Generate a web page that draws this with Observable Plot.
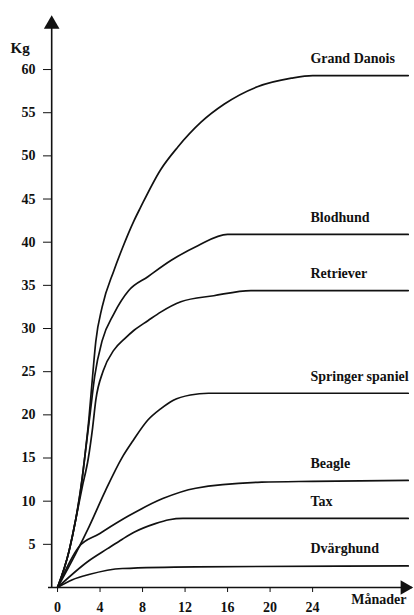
<!DOCTYPE html>
<html>
<head>
<meta charset="utf-8">
<script src="https://cdn.jsdelivr.net/npm/d3@7"></script>
<script src="https://cdn.jsdelivr.net/npm/@observablehq/plot@0.6"></script>
<style>
  html, body { margin: 0; padding: 0; background: #fff; }
  svg { display: block; }
  #chart svg, #chart svg text { font-family: "Liberation Serif", "Times New Roman", serif !important; font-weight: bold; }
</style>
</head>
<body>
<div id="chart"></div>
<script>
// Breeds (labels) and growth curves: [month, kg]
const breeds = ["Grand Danois", "Blodhund", "Retriever", "Springer spaniel", "Beagle", "Tax", "Dvärghund"];

const grandDanois = [[0,0],[1.1,4.3],[1.7,7.8],[2.2,11.5],[2.6,15.5],[2.95,19.5],[3.3,24.5],[3.6,28.5],[4.2,32.5],[5.3,36.7],[6.1,39.3],[7.2,42.5],[7.8,44.0],[9.7,48.4],[11.3,51.0],[13.5,53.9],[15.7,56.0],[18.8,58.0],[22,59.0],[24,59.3],[33,59.3]];
const blodhund = [[0,0],[1.1,4.3],[1.7,7.8],[2.3,12.5],[2.7,16.5],[3.1,20.5],[3.5,24.5],[4.2,28.6],[5.3,31.7],[6.7,34.4],[8.5,36.0],[10.7,37.9],[13.2,39.6],[16,40.9],[33,40.9]];
const retriever = [[0,0],[1.1,4.3],[1.7,7.8],[2.3,11.5],[2.9,15],[3.3,18.5],[3.6,21.7],[4.3,25.1],[5.3,27.5],[6.3,28.8],[7.2,29.8],[8.5,30.9],[9.7,31.9],[11.6,33.1],[14.7,33.8],[18.2,34.4],[33,34.4]];
const springer = [[0,0],[1.7,3.9],[2.95,7.0],[4.5,11.2],[6.1,15.1],[7.1,17.0],[8.5,19.4],[9.7,20.7],[10.9,21.7],[12.5,22.3],[14.2,22.5],[33,22.5]];
const beagle = [[0,0],[2.0,4.7],[3.9,6.2],[6.7,8.3],[9.9,10.3],[13,11.5],[19.2,12.2],[24,12.3],[33,12.4]];
const tax = [[0,0],[2.95,3.1],[4.7,4.5],[6.1,5.6],[7.2,6.4],[9.2,7.4],[10.5,7.85],[11.8,8.0],[33,8.0]];
const dvarghund = [[0,0],[1.4,0.9],[2.95,1.5],[6.1,2.2],[13,2.4],[33,2.5]];

const xTicks = [0, 4, 8, 12, 16, 20, 24];
const yTicks = [5, 10, 15, 20, 25, 30, 35, 40, 45, 50, 55, 60];

const seriesList = [grandDanois, blodhund, retriever, springer, beagle, tax, dvarghund];
const rows = seriesList.flatMap((s, i) => s.map(([m, kg]) => ({breed: breeds[i], month: m, kg})));
const lastRows = seriesList.map((s, i) => ({breed: breeds[i], month: s[s.length - 1][0], kg: s[s.length - 1][1]}));

const font = "Liberation Serif, Times New Roman, serif";

const chart = Plot.plot({
  width: 414,
  height: 615,
  marginLeft: 48,
  marginRight: 2,
  marginTop: 15,
  marginBottom: 28,
  style: {fontFamily: font, fontWeight: "bold", color: "#111", background: "#fff"},
  x: {domain: [-0.85, 33.4], axis: null},
  y: {domain: [0, 66.26], axis: null},
  marks: [
    // axes lines
    Plot.ruleY([0], {stroke: "#111", strokeWidth: 1.6}),
    Plot.ruleX([-0.55], {y1: 0, y2: 65, stroke: "#111", strokeWidth: 1.6}),
    // arrow heads
    Plot.dot([0], {x: -0.55, frameAnchor: "top", dy: 8.7, symbol: "triangle", r: 5.8, fill: "#111", stroke: "none"}),
    Plot.dot([0], {y: 0, frameAnchor: "right", dx: -7.7, symbol: "triangle", r: 5.4, rotate: 90, fill: "#111", stroke: "none"}),
    // y axis
    Plot.axisY(yTicks, {anchor: "left", dx: 3, tickSize: 8, tickPadding: 8, fontSize: 14, fontWeight: "bold", stroke: "#111", label: null}),
    // x axis
    Plot.axisX(xTicks, {anchor: "bottom", tickSize: 5, tickPadding: 10, fontSize: 14, fontWeight: "bold", stroke: "#111", label: null}),
    // curves
    Plot.line(rows, {x: "month", y: "kg", z: "breed", curve: "monotone-x", stroke: "#111", strokeWidth: 1.7}),
    // curve labels
    Plot.text(lastRows, {x: 23.8, y: "kg", text: "breed", textAnchor: "start", dy: -17, fontSize: 14, fontWeight: "bold", fill: "#111"}),
    // axis titles
    Plot.text(["Kg"], {frameAnchor: "top-left", textAnchor: "start", dx: -38, dy: 27, fontSize: 15, fontWeight: "bold", fill: "#111"}),
    Plot.text(["Månader"], {frameAnchor: "bottom-right", textAnchor: "end", dx: -6, dy: 16, fontSize: 14, fontWeight: "bold", fill: "#111"})
  ]
});
document.getElementById("chart").appendChild(chart);
</script>
</body>
</html>
